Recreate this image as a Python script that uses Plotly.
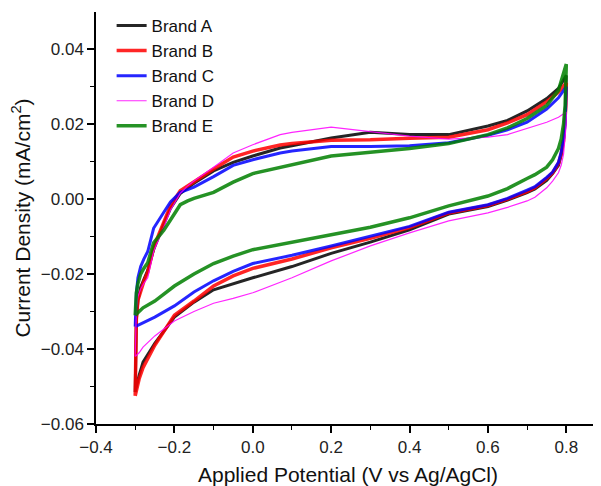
import plotly.graph_objects as go

# Forward (anodic) sweep potentials, V vs Ag/AgCl
x_fwd = [-0.3, -0.299, -0.297, -0.293, -0.286, -0.278, -0.268, -0.253, -0.24, -0.227,
         -0.21, -0.185, -0.166, -0.15, -0.1, -0.05, 0.0, 0.07, 0.1, 0.2,
         0.3, 0.4, 0.5, 0.6, 0.65, 0.7, 0.75, 0.78, 0.8]
# Reverse (cathodic) sweep potentials
x_rev = [0.8, 0.799, 0.797, 0.793, 0.787, 0.78, 0.765, 0.75, 0.72, 0.7,
         0.65, 0.6, 0.5, 0.4, 0.3, 0.2, 0.1, 0.0, -0.05, -0.1,
         -0.15, -0.2, -0.25, -0.28, -0.29, -0.3]

brand_a_fwd = [-0.0515, -0.040, -0.032, -0.027, -0.0235, -0.0215, -0.019, -0.0135, -0.0098, -0.0066,
               -0.0025, 0.0015, 0.003, 0.0042, 0.0075, 0.0098, 0.0115, 0.0136, 0.0142, 0.0163,
               0.0178, 0.0172, 0.0172, 0.0195, 0.021, 0.0235, 0.0268, 0.0295, 0.033]
brand_a_rev = [0.033, 0.027, 0.021, 0.016, 0.0118, 0.009, 0.0068, 0.005, 0.0027, 0.0017,
               -0.0003, -0.002, -0.004, -0.0082, -0.0115, -0.0145, -0.018, -0.021, -0.0225, -0.0242,
               -0.0275, -0.0315, -0.0385, -0.0435, -0.047, -0.0515]

brand_b_fwd = [-0.0525, -0.040, -0.032, -0.027, -0.0243, -0.022, -0.0195, -0.013, -0.0095, -0.0062,
               -0.0018, 0.0022, 0.0035, 0.0048, 0.008, 0.0112, 0.0128, 0.0144, 0.0148, 0.0157,
               0.0158, 0.0162, 0.0165, 0.0185, 0.0203, 0.0225, 0.026, 0.0285, 0.031]
brand_b_rev = [0.031, 0.025, 0.020, 0.0155, 0.012, 0.0095, 0.007, 0.0055, 0.003, 0.002,
               0.0, -0.0017, -0.0037, -0.0076, -0.0105, -0.013, -0.016, -0.0185, -0.0205, -0.0232,
               -0.0272, -0.031, -0.039, -0.045, -0.048, -0.0525]

brand_c_fwd = [-0.034, -0.029, -0.025, -0.021, -0.018, -0.016, -0.014, -0.0078, -0.0055, -0.0035,
               -0.0008, 0.0018, 0.0025, 0.0032, 0.006, 0.009, 0.0105, 0.0123, 0.0128, 0.014,
               0.014, 0.0142, 0.015, 0.017, 0.0185, 0.0205, 0.024, 0.027, 0.030]
brand_c_rev = [0.030, 0.025, 0.020, 0.016, 0.0125, 0.0098, 0.0072, 0.0058, 0.0033, 0.0024,
               0.0002, -0.0015, -0.0035, -0.0073, -0.010, -0.0125, -0.015, -0.0172, -0.0193, -0.0218,
               -0.0248, -0.0285, -0.0315, -0.033, -0.0335, -0.034]

brand_d_fwd = [-0.042, -0.034, -0.029, -0.026, -0.024, -0.0225, -0.021, -0.014, -0.0105, -0.0075,
               -0.003, 0.0015, 0.0035, 0.0048, 0.0085, 0.0123, 0.0145, 0.0172, 0.0178, 0.0192,
               0.018, 0.0168, 0.016, 0.0165, 0.0172, 0.0188, 0.0205, 0.0218, 0.0232]
brand_d_rev = [0.0232, 0.019, 0.016, 0.012, 0.009, 0.007, 0.0048, 0.003, 0.0005, -0.0005,
               -0.0022, -0.0037, -0.0058, -0.009, -0.0125, -0.0165, -0.021, -0.025, -0.0265, -0.0278,
               -0.030, -0.0325, -0.0365, -0.0395, -0.041, -0.042]

brand_e_fwd = [-0.031, -0.028, -0.025, -0.0225, -0.020, -0.0185, -0.017, -0.0117, -0.010, -0.0083,
               -0.0056, -0.0015, -0.0005, 0.0002, 0.0018, 0.0045, 0.0068, 0.0085, 0.0092, 0.0115,
               0.0125, 0.0135, 0.0148, 0.0172, 0.019, 0.0215, 0.025, 0.029, 0.036]
brand_e_rev = [0.036, 0.030, 0.025, 0.020, 0.016, 0.0135, 0.0105, 0.0085, 0.0065, 0.0055,
               0.0028, 0.0008, -0.0018, -0.005, -0.0075, -0.0095, -0.0115, -0.0135, -0.0152, -0.0172,
               -0.020, -0.0232, -0.0272, -0.029, -0.030, -0.031]

names = ["Brand A", "Brand B", "Brand C", "Brand D", "Brand E"]
fwd = [brand_a_fwd, brand_b_fwd, brand_c_fwd, brand_d_fwd, brand_e_fwd]
rev = [brand_a_rev, brand_b_rev, brand_c_rev, brand_d_rev, brand_e_rev]
colors = ["#000000", "#ff0000", "#0000ff", "#ff00ff", "#008000"]
widths = [3, 3.5, 3, 1.2, 3.5]

x_ticks = [-0.4, -0.2, 0.0, 0.2, 0.4, 0.6, 0.8]
x_labels = ["−0.4", "−0.2", "0.0", "0.2", "0.4", "0.6", "0.8"]
y_ticks = [-0.06, -0.04, -0.02, 0.00, 0.02, 0.04]
y_labels = ["−0.06", "−0.04", "−0.02", "0.00", "0.02", "0.04"]

fig = go.Figure()
for n, f, r, c, w in zip(names, fwd, rev, colors, widths):
    fig.add_trace(go.Scatter(
        x=x_fwd + x_rev[1:], y=f + r[1:], mode="lines", name=n,
        line=dict(color=c, width=w), opacity=0.85,
    ))

font_family = "'Liberation Sans', Arial, sans-serif"
fig.update_layout(
    width=593, height=478,
    margin=dict(l=88, r=1, t=4, b=62, autoexpand=False),
    paper_bgcolor="white", plot_bgcolor="white",
    font=dict(family=font_family, color="#111111"),
    showlegend=True,
    legend=dict(x=0.031, y=1.01, xanchor="left", yanchor="top",
                bgcolor="rgba(0,0,0,0)", font=dict(size=17, color="#111111"),
                tracegroupgap=0),
)
fig.update_xaxes(
    range=[-0.4, 0.886], tickvals=x_ticks, ticktext=x_labels, automargin=False,
    showline=True, linecolor="black", linewidth=1.5, showgrid=False, zeroline=False,
    ticks="outside", ticklen=7, tickwidth=1.5, tickcolor="black",
    tickfont=dict(size=17, color="#222222"),
    minor=dict(ticks="outside", ticklen=4, tickwidth=1.2, tickcolor="black", dtick=0.1, tick0=-0.4, showgrid=False),
    title=dict(text="Applied Potential (V vs Ag/AgCl)", font=dict(size=21, color="#111111"), standoff=17),
)
fig.update_yaxes(
    range=[-0.06, 0.0499], tickvals=y_ticks, ticktext=y_labels, automargin=False,
    showline=True, linecolor="black", linewidth=1.5, showgrid=False, zeroline=False,
    ticks="outside", ticklen=7, tickwidth=1.5, tickcolor="black",
    tickfont=dict(size=17, color="#222222"),
    minor=dict(ticks="outside", ticklen=4, tickwidth=1.2, tickcolor="black", dtick=0.01, tick0=-0.06, showgrid=False),
    title=dict(text="Current Density (mA/cm<sup>2</sup>)", font=dict(size=21, color="#111111"), standoff=6),
)

fig.write_html("out.html")
